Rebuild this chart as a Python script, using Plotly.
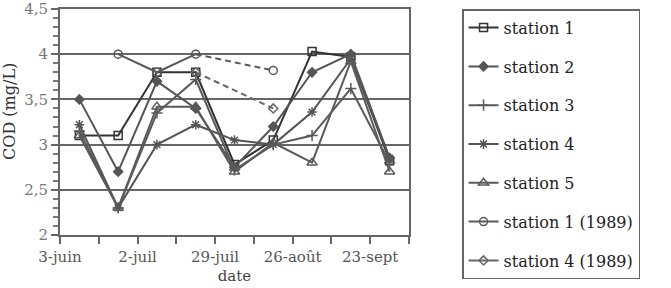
import plotly.graph_objects as go

# Day offsets from 3-juin (axis origin)
days = [7, 21, 35, 49, 63, 77, 91, 105, 119]
tick_days = [0, 14, 28, 42, 56, 70, 84, 98, 112, 126]
tick_labels = ["3-juin", "", "2-juil", "", "29-juil", "", "26-août", "", "23-sept", ""]

station1 = [3.1, 3.1, 3.8, 3.8, 2.78, 3.05, 4.03, 3.97, 2.82]
station2 = [3.5, 2.7, 3.7, 3.4, 2.75, 3.2, 3.8, 4.0, 2.85]
station3 = [3.15, 2.3, 3.35, 3.72, 2.72, 3.0, 3.1, 3.62, 2.8]
station4 = [3.22, 2.3, 3.0, 3.22, 3.05, 3.0, 3.36, 3.95, 2.85]
station5 = [3.1, 2.3, 3.42, 3.42, 2.7, 3.02, 2.8, 3.92, 2.7]
station1_1989 = [None, 4.0, 3.8, 4.0, None, 3.82, None, None, None]
station4_1989 = [None, None, None, 3.8, None, 3.4, None, None, None]

names = ["station 1", "station 2", "station 3", "station 4", "station 5",
         "station 1 (1989)", "station 4 (1989)"]
series = [station1, station2, station3, station4, station5, station1_1989, station4_1989]
symbols = ["square-open", "diamond", "cross-thin-open", "asterisk-open",
           "triangle-up-open", "circle-open", "diamond-open"]
sizes = [8, 7, 8, 8, 9, 8, 7]
colors = ["#333333", "#555555", "#5a5a5a", "#555555", "#5a5a5a", "#5a5a5a", "#666666"]

fig = go.Figure()
for i, (nm, ys, sym, sz, col) in enumerate(zip(names, series, symbols, sizes, colors)):
    fig.add_trace(go.Scatter(
        x=days, y=ys, name=nm, mode="lines+markers", connectgaps=False,
        line=dict(color=col, width=2),
        marker=dict(symbol=sym, size=sz, color=col, line=dict(color=col, width=1.5)),
        legendgroup=nm, legendrank=i + 1,
    ))

# dashed bridges across the missing sample for the 1989 series
for ys, col in [(station1_1989, colors[5]), (station4_1989, colors[6])]:
    pts = [(d, v) for d, v in zip(days, ys) if v is not None]
    a, b = pts[-2], pts[-1]
    fig.add_trace(go.Scatter(
        x=[a[0], b[0]], y=[a[1], b[1]], mode="lines", showlegend=False,
        line=dict(color=col, width=2, dash="6px,4px"), hoverinfo="skip",
    ))

serif = "DejaVu Serif"
fig.update_layout(
    width=671, height=288,
    margin=dict(l=60, r=262, t=9, b=53, autoexpand=False),
    paper_bgcolor="white", plot_bgcolor="white",
    separators=", ",
    font=dict(family=serif, size=15, color="#555555"),
    showlegend=True,
    legend=dict(
        x=1.152, y=0.968, xanchor="left", yanchor="top", yref="container",
        maxheight=1.0,
        bordercolor="#666666", borderwidth=1.5,
        font=dict(family=serif, size=16, color="#222222"),
        tracegroupgap=15, itemwidth=30,
    ),
    annotations=[dict(
        text="COD (mg/L)", x=-0.143, y=0.545, xref="paper", yref="paper",
        textangle=-90, showarrow=False, xanchor="center", yanchor="middle",
        font=dict(family=serif, size=16, color="#333333"),
    )],
)
fig.update_xaxes(
    range=[0, 126], tickvals=tick_days, ticktext=tick_labels,
    ticks="outside", ticklen=7, tickwidth=1.5, tickcolor="#666666",
    showgrid=False, zeroline=False,
    showline=True, linecolor="#666666", linewidth=2, mirror=True,
    tickfont=dict(family=serif, size=15, color="#555555"),
    title=dict(text="date", standoff=5, font=dict(family=serif, size=15, color="#444444")),
)
fig.update_yaxes(
    range=[2, 4.5], dtick=0.5, tick0=2,
    ticks="outside", ticklen=7, tickwidth=1.5, tickcolor="#666666",
    minor=dict(dtick=0.1, ticks="outside", ticklen=5, tickcolor="#777777", showgrid=False),
    showgrid=True, gridcolor="#666666", gridwidth=1.5,
    zeroline=False,
    showline=True, linecolor="#666666", linewidth=2, mirror=True,
    tickfont=dict(family=serif, size=15, color="#777777"),
)

fig.write_html("out.html")
